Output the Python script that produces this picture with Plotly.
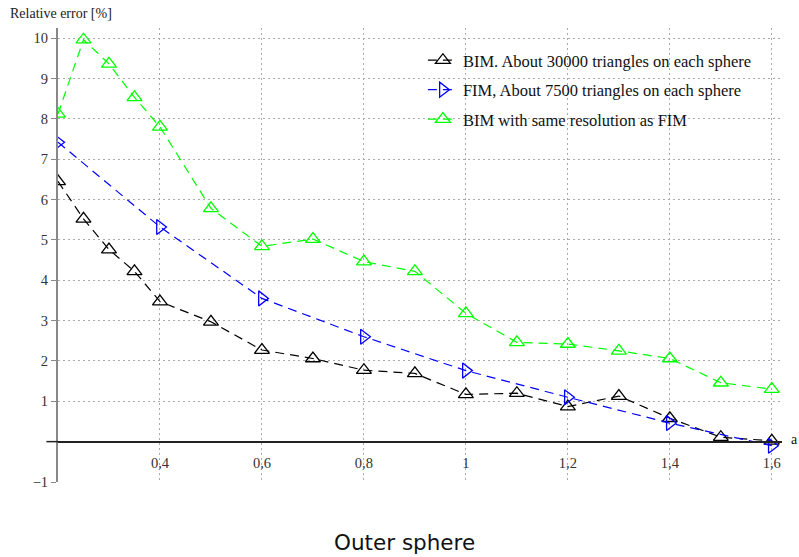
import plotly.graph_objects as go

# ---- data ----
x_fine = [0.2, 0.25, 0.3, 0.35, 0.4, 0.5, 0.6, 0.7, 0.8, 0.9, 1.0, 1.1, 1.2, 1.3, 1.4, 1.5, 1.6]
bim_30000 = [6.45, 5.52, 4.76, 4.22, 3.47, 2.97, 2.27, 2.06, 1.77, 1.69, 1.17, 1.2, 0.87, 1.13, 0.58, 0.11, 0.02]
x_fim = [0.2, 0.4, 0.6, 0.8, 1.0, 1.2, 1.4, 1.6]
fim_7500 = [7.42, 5.32, 3.55, 2.6, 1.76, 1.1, 0.46, -0.1]
bim_same = [8.12, 9.96, 9.36, 8.53, 7.8, 5.78, 4.84, 5.02, 4.46, 4.22, 3.18, 2.46, 2.42, 2.25, 2.06, 1.46, 1.3]

x_tickvals = [0.4, 0.6, 0.8, 1.0, 1.2, 1.4, 1.6]
x_ticktext = ["0,4", "0,6", "0,8", "1", "1,2", "1,4", "1,6"]
y_tickvals = [-1, 1, 2, 3, 4, 5, 6, 7, 8, 9, 10]
y_ticktext = ["\u22121", "1", "2", "3", "4", "5", "6", "7", "8", "9", "10"]

names = [
    "BIM. About 30000 triangles on each sphere",
    "FIM, About 7500 triangles on each sphere",
    "BIM with same resolution as FIM",
]

SERIF = "Liberation Serif"
DASH = "9px,6px"

fig = go.Figure()
fig.add_trace(go.Scatter(
    x=x_fine, y=bim_30000, name=names[0], mode="lines+markers", legendgroup="a",
    line=dict(color="#000000", width=1.2, dash=DASH),
    marker=dict(symbol="triangle-up-open", size=13, color="#000000", line=dict(width=1.3)),
))
fig.add_trace(go.Scatter(
    x=x_fim, y=fim_7500, name=names[1], mode="lines+markers", legendgroup="b",
    line=dict(color="#0000ff", width=1.2, dash=DASH),
    marker=dict(symbol="triangle-right-open", size=13, color="#0000ff", line=dict(width=1.3)),
))
fig.add_trace(go.Scatter(
    x=x_fine, y=bim_same, name=names[2], mode="lines+markers", legendgroup="c",
    line=dict(color="#00ff00", width=1.2, dash=DASH),
    marker=dict(symbol="triangle-up-open", size=13, color="#00ff00", line=dict(width=1.3)),
))

y_min, y_max = -1, 10.25
zero_frac = (0 - y_min) / (y_max - y_min)

fig.update_layout(
    width=799, height=557,
    margin=dict(l=58, r=17, t=28, b=75, autoexpand=False),
    paper_bgcolor="white", plot_bgcolor="white",
    showlegend=True,
    legend=dict(
        x=0.504, y=0.967, xanchor="left", yanchor="top",
        bgcolor="rgba(0,0,0,0)", borderwidth=0,
        font=dict(family=SERIF, size=16.5, color="#111111"),
        tracegroupgap=5,
    ),
    xaxis=dict(
        range=[0.2, 1.62], anchor="free", position=zero_frac,
        tickvals=x_tickvals, ticktext=x_ticktext,
        showline=True, linecolor="#222222", linewidth=1.5,
        showgrid=True, gridcolor="#aaaaaa", griddash="2px,3px", gridwidth=1,
        zeroline=False, ticks="", ticklen=0, ticklabelstandoff=8,
        tickfont=dict(family=SERIF, size=14.5, color="#333333"),
    ),
    yaxis=dict(
        range=[y_min, y_max],
        tickvals=y_tickvals, ticktext=y_ticktext,
        showline=True, linecolor="#888888", linewidth=2,
        ticks="outside", ticklen=5, tickcolor="#888888", tickwidth=1,
        ticklabelstandoff=0,
        showgrid=True, gridcolor="#aaaaaa", griddash="2px,3px", gridwidth=1,
        zeroline=False,
        tickfont=dict(family=SERIF, size=14.5, color="#333333"),
    ),
    shapes=[dict(type="line", xref="paper", yref="y", x0=-0.016, x1=0.0, y0=0, y1=0,
                 line=dict(color="#222222", width=1.5))],
    annotations=[
        dict(text="Relative error [%]", xref="paper", yref="paper",
             x=-0.069, y=1.031, xanchor="left", yanchor="middle", showarrow=False,
             font=dict(family=SERIF, size=14, color="#222222")),
        dict(text="a", xref="paper", yref="paper", x=1.009, y=zero_frac + 0.004,
             xanchor="left", yanchor="middle", showarrow=False,
             font=dict(family=SERIF, size=14, color="#111111")),
        dict(text="Outer sphere", xref="paper", yref="paper", x=0.478, y=-0.134,
             xanchor="center", yanchor="middle", showarrow=False,
             font=dict(family="DejaVu Sans", size=21.5, color="#111111")),
    ],
)

fig.write_html(
    "out.html",
    config={"displayModeBar": False},
    post_script="document.body.style.margin='0';document.body.style.overflow='hidden';",
)
